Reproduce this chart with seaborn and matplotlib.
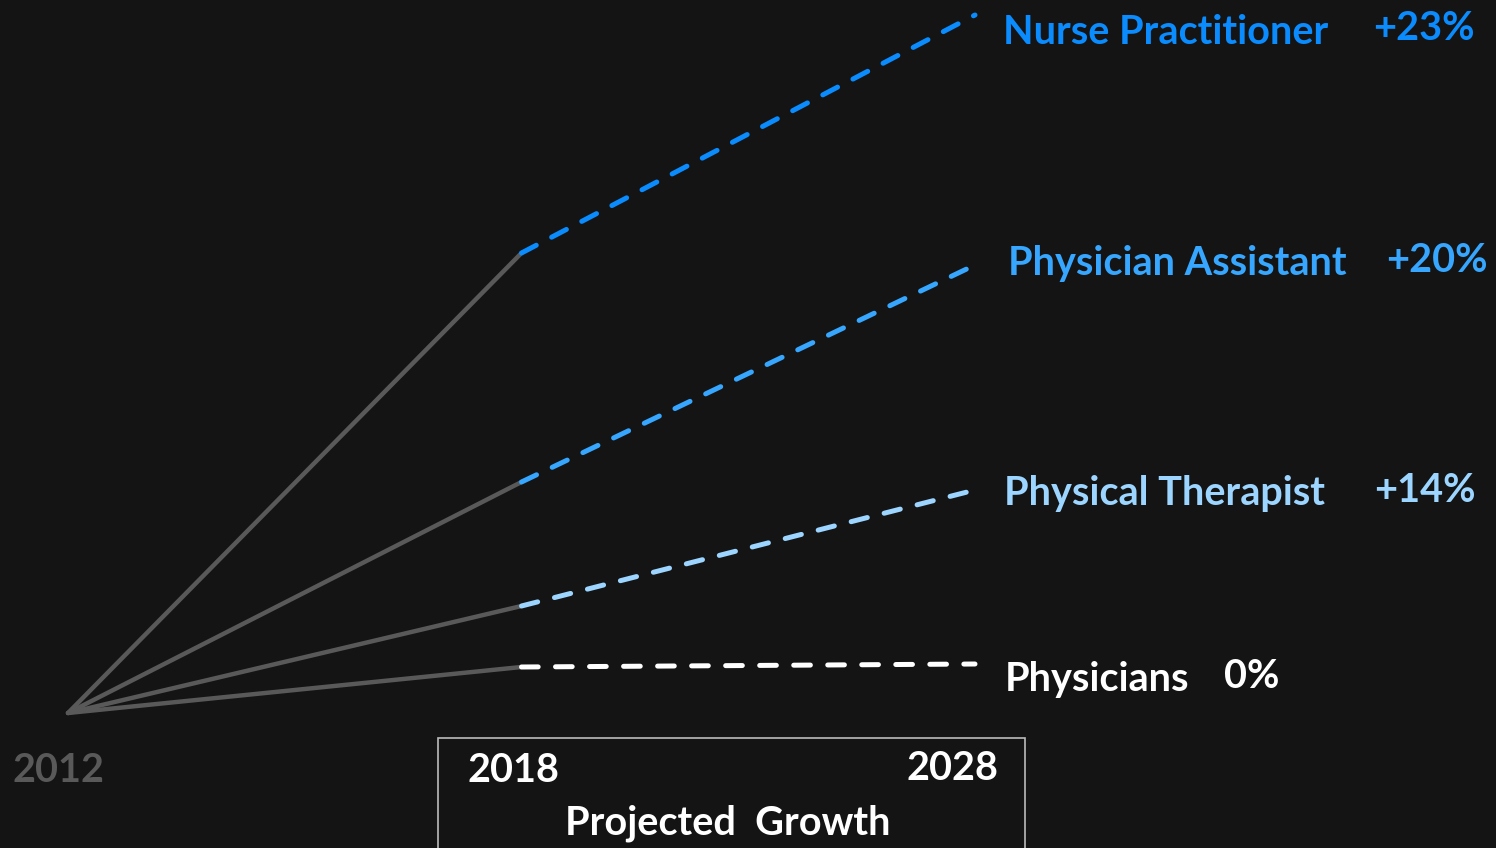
import matplotlib.pyplot as plt
import pandas as pd
import seaborn as sns
from matplotlib.patches import Rectangle

# positions along the x axis: 2012, 2018, 2028 are drawn evenly spaced
years = ["2012", "2018", "2028"]
x_pos = [0, 1, 2]

professions = ["Nurse Practitioner", "Physician Assistant", "Physical Therapist", "Physicians"]
growth = ["+23%", "+20%", "+14%", "0%"]
# relative level (2012 baseline = 0)
level_2012 = [0, 0, 0, 0]
level_2018 = [460, 231, 107, 46]
level_2028 = [698, 448, 223, 49]
colors = ["#0A8CFF", "#36A6FF", "#9CD5FF", "#FFFFFF"]

bg = "#141414"
gray = "#595959"

hist = pd.DataFrame({
    "profession": professions * 2,
    "x": [x_pos[0]] * 4 + [x_pos[1]] * 4,
    "level": level_2012 + level_2018,
})
proj = pd.DataFrame({
    "profession": professions * 2,
    "x": [x_pos[1]] * 4 + [x_pos[2]] * 4,
    "level": level_2018 + level_2028,
})

sns.set_theme(style="white")
plt.rcParams["font.family"] = ["Lato", "DejaVu Sans"]
plt.rcParams["lines.scale_dashes"] = False

fig = plt.figure(figsize=(14.96, 8.48), dpi=100, facecolor=bg)
ax = fig.add_axes([0, 0, 1, 1])
ax.set_facecolor(bg)

# map data to the picture: x=0 at 68px, x=2 at 975px; level 0 at 713px from top
px_per_x = (975 - 68) / 2
ax.set_xlim(-68 / px_per_x, (1496 - 68) / px_per_x)
ax.set_ylim(713 - 848, 713)

# solid gray history lines
for p in professions:
    sns.lineplot(data=hist[hist.profession == p], x="x", y="level", ax=ax,
                 color=gray, linewidth=3.2, legend=False)
for ln in ax.lines:
    ln.set_solid_capstyle("round")
n_hist = len(ax.lines)

# dashed coloured projections
for p, c in zip(professions, colors):
    sns.lineplot(data=proj[proj.profession == p], x="x", y="level", ax=ax,
                 color=c, linewidth=3.6, legend=False)
for ln in ax.lines[n_hist:]:
    ln.set_dashes((12, 12.5))
    ln.set_dash_capstyle("round")

ax.set_axis_off()

W, H = 1496, 848


def fx(px):
    return px / W


def fy(py):
    return 1 - py / H


fs = 28.5
label_pos = [(1003, 32, 1475), (1008, 264, 1488), (1004, 493, 1476), (1005, 680, 1279)]
for (lx, ly, gx), name, g, c in zip(label_pos, professions, growth, colors):
    fig.text(fx(lx), fy(ly), name, color=c, fontsize=fs, fontweight="bold",
             ha="left", va="center")
    fig.text(fx(gx), fy(ly - 3), g, color=c, fontsize=fs, fontweight="bold",
             ha="right", va="center")

# year labels
fig.text(fx(12), fy(771), years[0], color=gray, fontsize=fs, fontweight="bold",
         ha="left", va="center")
fig.text(fx(467), fy(771), years[1], color="white", fontsize=fs, fontweight="bold",
         ha="left", va="center")
fig.text(fx(999), fy(768), years[2], color="white", fontsize=fs, fontweight="bold",
         ha="right", va="center")
fig.text(fx(728), fy(823), "Projected  Growth", color="white", fontsize=fs,
         fontweight="bold", ha="center", va="center")

# box around the projection period labels
fig.patches.append(Rectangle((fx(438), fy(860)), fx(1025 - 438), (860 - 738) / H,
                             transform=fig.transFigure, fill=False,
                             edgecolor="#BBBBBB", linewidth=1.2))

fig.savefig("out.png", dpi=100, facecolor=bg)
